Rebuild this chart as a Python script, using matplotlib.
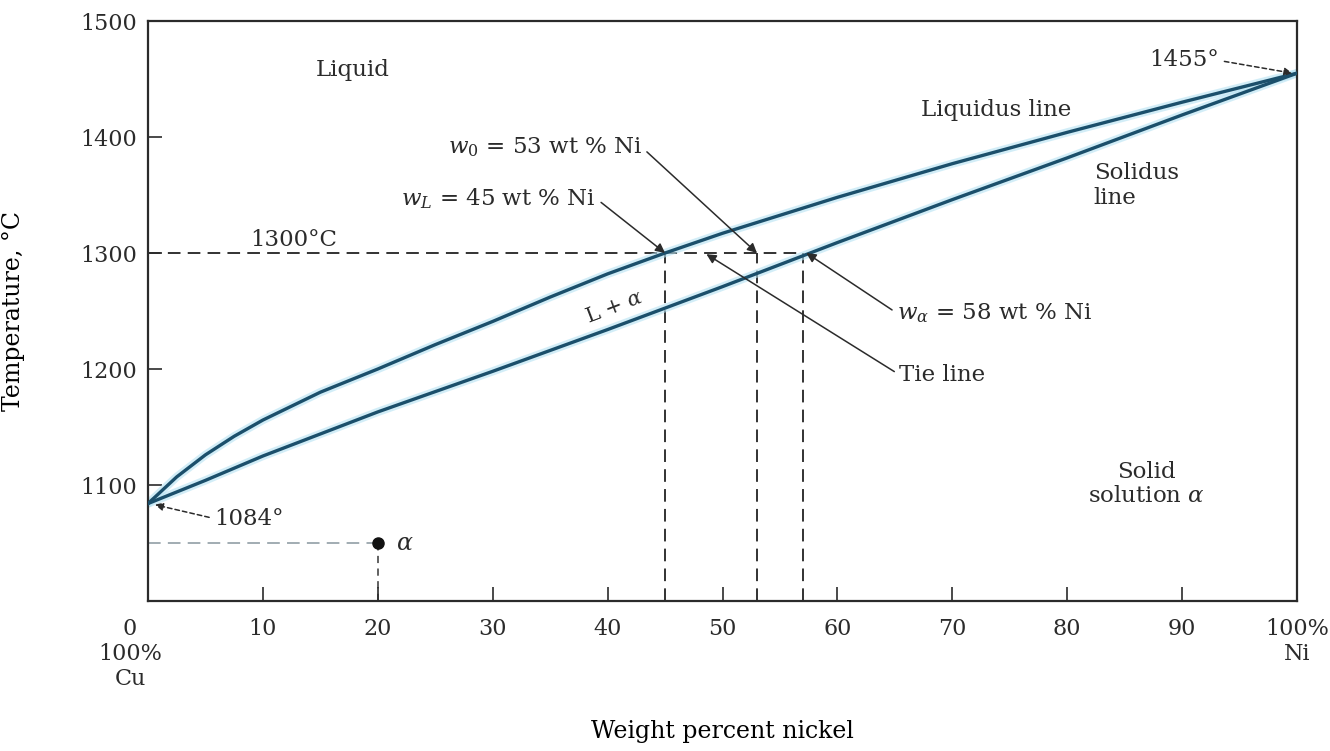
import matplotlib as mpl
mpl.use('Agg')
import matplotlib.pyplot as plt

mpl.rcParams.update({
    'font.family': ['DejaVu Serif'],
    'mathtext.fontset': 'dejavuserif',
    'font.size': 16,
    'text.color': '#2b2b2b',
    'axes.edgecolor': '#2b2b2b',
    'xtick.color': '#2b2b2b',
    'ytick.color': '#2b2b2b',
})

# Cu-Ni phase diagram
liq_comp = [0, 2.5, 5, 7.5, 10, 15, 20, 25, 30, 35, 40, 45, 50, 60, 70, 80, 90, 100]
liquidus = [1084, 1107, 1126, 1142, 1156, 1180, 1200, 1221, 1241, 1262, 1282, 1300,
            1317, 1348, 1377, 1404, 1430, 1455]
sol_comp = [0, 5, 10, 20, 30, 40, 50, 60, 70, 80, 90, 100]
solidus = [1084, 1104, 1125, 1163, 1198, 1234, 1271, 1309, 1346, 1382, 1419, 1455]

tie_temp = 1300
w_L, w_0, w_alpha = 45, 53, 57
point_alpha = (20, 1050)

xticks = [10, 20, 30, 40, 50, 60, 70, 80, 90, 100]
xticklabels = ['10', '20', '30', '40', '50', '60', '70', '80', '90', '100%\nNi']
yticks = [1100, 1200, 1300, 1400, 1500]

line_col = '#1b4f6b'
glow_col = '#b5e2f3'
dash = (0, (7, 4))

fig = plt.figure(figsize=(13.3, 7.51), dpi=100)
ax = fig.add_axes([148 / 1330, 150 / 751, 1149 / 1330, 580 / 751])

# phase boundaries with a light halo like the scan
for xs, curve in ((liq_comp, liquidus), (sol_comp, solidus)):
    ax.plot(xs, curve, color=glow_col, lw=6, alpha=0.6, solid_capstyle='round', zorder=2)
    ax.plot(xs, curve, color=line_col, lw=2.4, zorder=3)

# tie line and composition drops
ax.plot([0, w_alpha], [tie_temp, tie_temp], color='#222', lw=1.3, ls=dash, zorder=1)
for w in (w_L, w_0, w_alpha):
    ax.plot([w, w], [1000, tie_temp], color='#222', lw=1.3, ls=dash, zorder=1)

# point alpha
ax.plot([0, point_alpha[0]], [point_alpha[1]] * 2, color='#9aa6ad', lw=1.3, ls=dash, zorder=1)
ax.plot([point_alpha[0]] * 2, [1000, point_alpha[1]], color='#555', lw=1.3, ls=(0, (4, 3)), zorder=1)
ax.plot(*point_alpha, 'o', color='#111', ms=8, zorder=4)
ax.text(point_alpha[0] + 1.6, point_alpha[1], r'$\alpha$', fontsize=17, va='center', ha='left')

ax.set_xlim(0, 100)
ax.set_ylim(1000, 1500)
ax.set_xticks(xticks)
ax.set_xticklabels(xticklabels)
ax.set_yticks(yticks)
ax.tick_params(direction='in', length=10, width=1.2, labelsize=16)
ax.tick_params(axis='x', pad=12)
ax.tick_params(axis='y', pad=8)
for s in ax.spines.values():
    s.set_linewidth(1.6)

# 0 / 100% Cu label sits a bit left of the corner
ax.annotate('0\n100%\nCu', xy=(0, 0), xycoords='axes fraction',
            xytext=(-13, -12), textcoords='offset points',
            ha='center', va='top', fontsize=16)

ax.set_xlabel('Weight percent nickel', fontsize=17)
ax.set_ylabel('Temperature, °C', fontsize=17)
ax.xaxis.set_label_coords(0.5, -0.205)
ax.yaxis.set_label_coords(-0.107, 0.5)

# region labels
ax.text(17.8, 1458, 'Liquid', fontsize=16.5, ha='center', va='center')
ax.text(73.8, 1423, 'Liquidus line', fontsize=16.5, ha='center', va='center')
ax.text(82.3, 1358, 'Solidus\nline', fontsize=16.5, ha='left', va='center', linespacing=1.15)
ax.text(86.9, 1101, 'Solid\nsolution $\\alpha$', fontsize=16.5, ha='center', va='center',
        linespacing=1.15)
ax.text(40.6, 1253, r'L + $\alpha$', fontsize=15, ha='center', va='center',
        rotation=21, rotation_mode='anchor')
ax.text(12.7, 1311, '1300°C', fontsize=16.5, ha='center', va='center')

arrow = dict(arrowstyle='-|>', color='#2b2b2b', lw=1.1, mutation_scale=14,
             shrinkA=2, shrinkB=0)

ax.annotate(r'$w_0$ = 53 wt % Ni', xy=(w_0, tie_temp), xytext=(43.0, 1391),
            ha='right', va='center', fontsize=16.5,
            arrowprops=dict(arrow, relpos=(1, 0.5)))
ax.annotate(r'$w_L$ = 45 wt % Ni', xy=(w_L, tie_temp), xytext=(39.0, 1347),
            ha='right', va='center', fontsize=16.5,
            arrowprops=dict(arrow, relpos=(1, 0.5)))
ax.annotate(r'$w_\alpha$ = 58 wt % Ni', xy=(w_alpha + 0.3, tie_temp), xytext=(65.2, 1248),
            ha='left', va='center', fontsize=16.5,
            arrowprops=dict(arrow, relpos=(0, 0.5)))
ax.annotate('Tie line', xy=(48.6, tie_temp - 1), xytext=(65.4, 1195),
            ha='left', va='center', fontsize=16.5,
            arrowprops=dict(arrow, relpos=(0, 0.5)))

dashed_arrow = dict(arrowstyle='-|>', color='#2b2b2b', lw=1.1, mutation_scale=12,
                    shrinkA=2, shrinkB=0, linestyle=(0, (3, 2)))
ax.annotate('1455°', xy=(99.6, 1455), xytext=(93.2, 1466),
            ha='right', va='center', fontsize=16.5,
            arrowprops=dict(dashed_arrow, relpos=(1, 0.5)))
ax.annotate('1084°', xy=(0.6, 1083), xytext=(5.8, 1071),
            ha='left', va='center', fontsize=16.5,
            arrowprops=dict(dashed_arrow, relpos=(0, 0.5)))

plt.savefig('out.png', dpi=100)
plt.close(fig)
